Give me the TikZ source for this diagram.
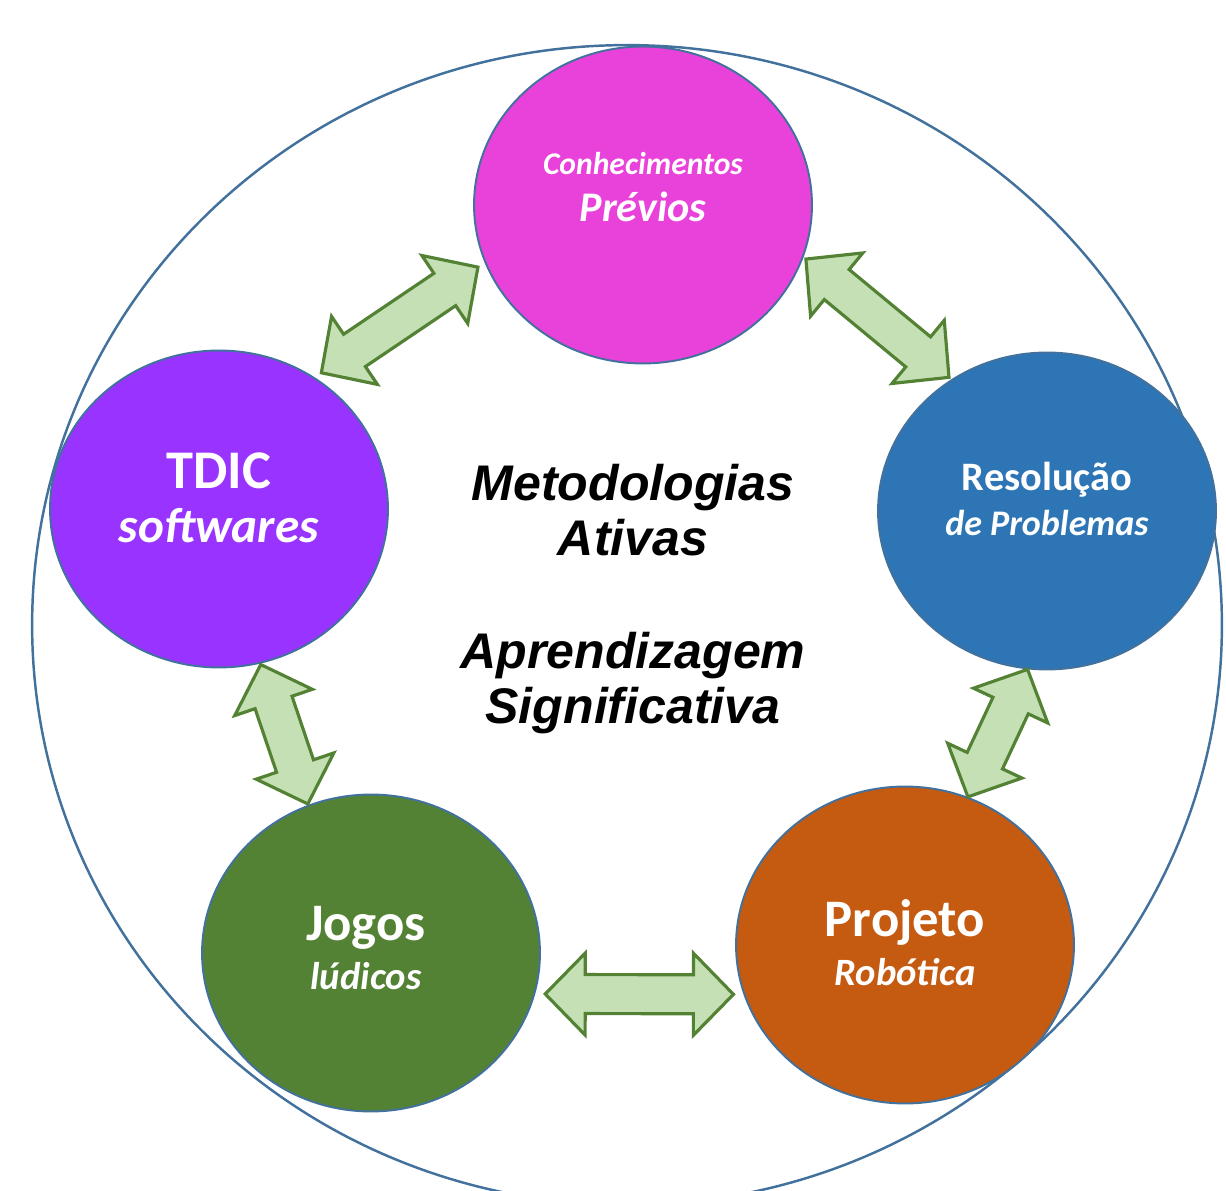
\documentclass[tikz,border=0pt]{standalone}
\usepackage{fontspec}
\usetikzlibrary{shapes.geometric,calc}
\newfontfamily\circfont{Carlito}
\newfontfamily\midfont{Liberation Sans}
\definecolor{edgeblue}{RGB}{65,113,156}
\definecolor{prevcol}{RGB}{233,66,218}
\definecolor{tdiccol}{RGB}{153,51,255}
\definecolor{resocol}{RGB}{46,117,182}
\definecolor{jogocol}{RGB}{84,130,53}
\definecolor{projcol}{RGB}{197,90,17}
\definecolor{arrowfill}{RGB}{197,224,180}
\definecolor{arrowline}{RGB}{84,130,53}
\def\headlen{0.8cm}
\def\headwid{0.82cm}
\def\shaftwid{0.39cm}

\begin{document}
\begin{tikzpicture}[x=0.02cm, y=0.02cm,
    blob/.style={ellipse, draw=edgeblue, line width=1.1pt, minimum width=6.76cm,
        minimum height=6.34cm, inner sep=0pt},
    blobtext/.style={text=white, align=center, inner sep=0pt},
    midtext/.style={align=center, font=\midfont\bfseries\itshape\fontsize{28.5}{31.5}\selectfont},
    dblarrow/.style={draw=arrowline, fill=arrowfill, line width=1.8pt, line join=miter,
        to path={let \p1=($(\tikztostart)!#1!(\tikztotarget)$),
                     \p2=($(\tikztotarget)!#1!(\tikztostart)$),
                     \n1={atan2(\y2-\y1,\x2-\x1)} in
            (\p1) -- ($(\p1)+(\n1:\headlen)+(\n1+90:\headwid)$)
                  -- ($(\p1)+(\n1:\headlen)+(\n1+90:\shaftwid)$)
                  -- ($(\p2)+(\n1+180:\headlen)+(\n1+90:\shaftwid)$)
                  -- ($(\p2)+(\n1+180:\headlen)+(\n1+90:\headwid)$)
            -- (\p2) -- ($(\p2)+(\n1+180:\headlen)+(\n1-90:\headwid)$)
                  -- ($(\p2)+(\n1+180:\headlen)+(\n1-90:\shaftwid)$)
                  -- ($(\p1)+(\n1:\headlen)+(\n1-90:\shaftwid)$)
                  -- ($(\p1)+(\n1:\headlen)+(\n1-90:\headwid)$) -- cycle}},
    dblarrow/.default=0cm]
    \useasboundingbox (0,0) rectangle (1226,1190);

    % outer ring
    \node[ellipse, draw=edgeblue, line width=1.4pt, minimum width=23.8cm,
        minimum height=23.2cm, inner sep=0pt] (ring) at (627,565) {};

    % the five circles
    \node[blob, fill=prevcol] (prev) at (643,985) {};
    \node[blob, fill=tdiccol] (tdic) at (219,681) {};
    \node[blob, fill=resocol] (reso) at (1047,679) {};
    \node[blob, fill=jogocol] (jogo) at (371,237) {};
    \node[blob, fill=projcol] (proj) at (905,245) {};

    % their texts
    \node[blobtext, font=\circfont\fontsize{24}{27}\selectfont] (prev-txt) at ([yshift=0.36cm]prev)
        {{\fontsize{18}{18}\selectfont\bfseries\itshape Conhecimentos}\\\textbf{\textit{Prévios}}};
    \node[blobtext, font=\circfont\fontsize{28}{31}\selectfont] (tdic-txt) at ([yshift=0.22cm]tdic)
        {{\fontsize{31}{31}\selectfont\bfseries TDIC}\\\textbf{\textit{softwares}}};
    \node[blobtext, font=\circfont\fontsize{20.5}{25.5}\selectfont] (reso-txt) at ([yshift=0.24cm]reso)
        {{\fontsize{23}{23}\selectfont\bfseries Resolução}\\\textbf{\textit{de Problemas}}};
    \node[blobtext, font=\circfont\fontsize{22}{28}\selectfont] (jogo-txt) at ([yshift=0.1cm,xshift=-0.1cm]jogo)
        {{\fontsize{30}{30}\selectfont\bfseries Jogos}\\\textbf{\textit{lúdicos}}};
    \node[blobtext, font=\circfont\fontsize{22}{28}\selectfont] (proj-txt) at ([yshift=0.04cm]proj)
        {{\fontsize{30}{30}\selectfont\bfseries Projeto}\\\textbf{\textit{Robótica}}};

    % middle text
    \node[midtext] (meto) at (633,680) {Metodologias\\Ativas};
    \node[midtext] (apre) at (633,507) {Aprendizagem\\Significativa};

    % double arrows
    \draw[dblarrow=0.16cm] (tdic.54) to (prev.200);
    \draw[dblarrow=0.06cm] (prev.342) to (reso.126);
    \draw[dblarrow] (reso.263) to (proj.67);
    \draw[dblarrow=0.02cm] (tdic.285) to (jogo.113);
    \draw[dblarrow=0.2cm] (jogo.346) to (proj.197);
\end{tikzpicture}
\end{document}
